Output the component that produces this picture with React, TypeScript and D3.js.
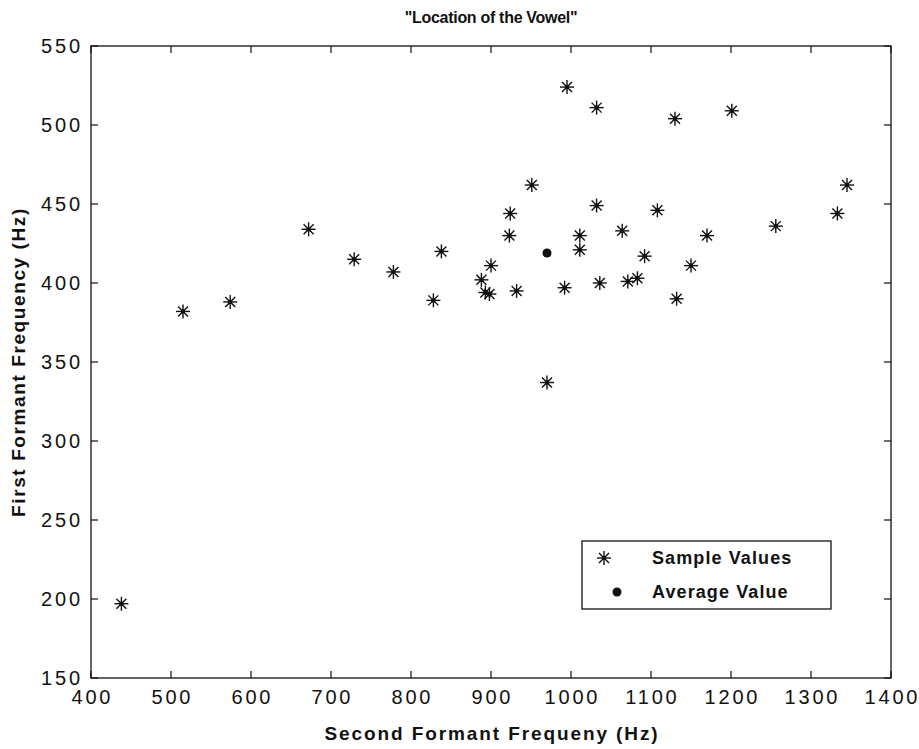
import React, {useEffect, useRef} from 'react'
import * as d3 from 'd3'

// second formant (x) / first formant (y), Hz
const f2Values = [438, 515, 574, 672, 729, 778, 828, 838, 888, 893, 898, 900, 923, 924, 932, 951, 970, 992, 995, 1011, 1011, 1032, 1032, 1036, 1064, 1071, 1083, 1092, 1108, 1130, 1132, 1150, 1170, 1201, 1256, 1333, 1345];
const f1Values = [197, 382, 388, 434, 415, 407, 389, 420, 402, 394, 393, 411, 430, 444, 395, 462, 337, 397, 524, 430, 421, 511, 449, 400, 433, 401, 403, 417, 446, 504, 390, 411, 430, 509, 436, 444, 462];

const averageF2 = [970];
const averageF1 = [419];

const xTicks = [400, 500, 600, 700, 800, 900, 1000, 1100, 1200, 1300, 1400];
const yTicks = [150, 200, 250, 300, 350, 400, 450, 500, 550];

const legendLabels = ['Sample Values', 'Average Value'];

const W = 919, H = 749;
const margin = {top: 46, right: 28, bottom: 71, left: 91};
const font = '"Liberation Sans", Arial, Helvetica, sans-serif';

const App = () => {
  const ref = useRef<SVGSVGElement>(null);

  useEffect(() => {
    const width = W - margin.left - margin.right;
    const height = H - margin.top - margin.bottom;

    const xScale = d3.scaleLinear().domain([400, 1400]).range([0, width]);
    const yScale = d3.scaleLinear().domain([150, 550]).range([height, 0]);

    const svg = d3.select(ref.current);
    const g = svg.append('g')
      .attr('transform', 'translate(' + margin.left + ',' + margin.top + ')');

    // box
    g.append('rect')
      .attr('width', width).attr('height', height)
      .attr('fill', 'none').attr('stroke', '#111').attr('stroke-width', 1.3);

    const tl = 7;
    // ticks on all four sides, pointing inward
    g.append('g').selectAll('line.xb').data(xTicks).enter().append('line')
      .attr('x1', d => xScale(d)).attr('x2', d => xScale(d))
      .attr('y1', height).attr('y2', height - tl)
      .attr('stroke', '#111').attr('stroke-width', 1.2);
    g.append('g').selectAll('line.xt').data(xTicks).enter().append('line')
      .attr('x1', d => xScale(d)).attr('x2', d => xScale(d))
      .attr('y1', 0).attr('y2', tl)
      .attr('stroke', '#111').attr('stroke-width', 1.2);
    g.append('g').selectAll('line.yl').data(yTicks).enter().append('line')
      .attr('x1', 0).attr('x2', tl)
      .attr('y1', d => yScale(d)).attr('y2', d => yScale(d))
      .attr('stroke', '#111').attr('stroke-width', 1.2);
    g.append('g').selectAll('line.yr').data(yTicks).enter().append('line')
      .attr('x1', width).attr('x2', width - tl)
      .attr('y1', d => yScale(d)).attr('y2', d => yScale(d))
      .attr('stroke', '#111').attr('stroke-width', 1.2);

    // tick labels (wide, like the original)
    const ls = 2.8;
    g.append('g').selectAll('text').data(xTicks).enter().append('text')
      .attr('x', d => xScale(d) + ls / 2).attr('y', height + 26)
      .attr('text-anchor', 'middle')
      .attr('font-family', font).attr('font-size', 20)
      .attr('letter-spacing', ls)
      .attr('fill', '#111')
      .text(d => d);
    g.append('g').selectAll('text').data(yTicks).enter().append('text')
      .attr('x', -11 + ls).attr('y', d => yScale(d) + 7)
      .attr('text-anchor', 'end')
      .attr('font-family', font).attr('font-size', 20)
      .attr('letter-spacing', ls)
      .attr('fill', '#111')
      .text(d => d);

    // titles
    svg.append('text')
      .attr('x', margin.left + width / 2).attr('y', 23)
      .attr('text-anchor', 'middle')
      .attr('font-family', font).attr('font-size', 16).attr('font-weight', 'bold')
      .attr('letter-spacing', -0.3)
      .attr('fill', '#111')
      .text('"Location of the Vowel"');
    svg.append('text')
      .attr('x', margin.left + width / 2 + 1).attr('y', 740)
      .attr('text-anchor', 'middle')
      .attr('font-family', font).attr('font-size', 19).attr('font-weight', 'bold')
      .attr('letter-spacing', 1.9)
      .attr('fill', '#111')
      .text('Second Formant Frequeny (Hz)');
    svg.append('text')
      .attr('transform', 'translate(25,' + (margin.top + height / 2) + ') rotate(-90)')
      .attr('text-anchor', 'middle')
      .attr('font-family', font).attr('font-size', 19).attr('font-weight', 'bold')
      .attr('letter-spacing', 1.6)
      .attr('fill', '#111')
      .text('First Formant Frequency (Hz)');

    const star = (sel, cx, cy) => {
      const a = 7, b = 5;
      const p = sel.append('g').attr('transform', 'translate(' + cx + ',' + cy + ')')
        .attr('stroke', '#111').attr('stroke-width', 1.4);
      p.append('line').attr('x1', -a).attr('x2', a).attr('y1', 0).attr('y2', 0);
      p.append('line').attr('x1', 0).attr('x2', 0).attr('y1', -a).attr('y2', a);
      p.append('line').attr('x1', -b).attr('x2', b).attr('y1', -b).attr('y2', b);
      p.append('line').attr('x1', -b).attr('x2', b).attr('y1', b).attr('y2', -b);
      p.append('rect').attr('x', -2).attr('y', -2).attr('width', 4).attr('height', 4)
        .attr('fill', '#111').attr('stroke', 'none');
    };

    const pts = g.append('g');
    f2Values.forEach((v, i) => star(pts, xScale(v), yScale(f1Values[i])));

    g.append('g').selectAll('circle').data(averageF2).enter().append('circle')
      .attr('cx', d => xScale(d)).attr('cy', (d, i) => yScale(averageF1[i]))
      .attr('r', 4.5).attr('fill', '#111');

    // legend
    const lg = svg.append('g').attr('transform', 'translate(582,541)');
    lg.append('rect').attr('width', 249).attr('height', 68)
      .attr('fill', '#fff').attr('stroke', '#111').attr('stroke-width', 1.3);
    star(lg, 22, 17);
    lg.append('circle').attr('cx', 35).attr('cy', 51).attr('r', 4.5).attr('fill', '#111');
    lg.selectAll('text').data(legendLabels).enter().append('text')
      .attr('x', 70).attr('y', (d, i) => 23 + i * 34)
      .attr('font-family', font).attr('font-size', 18).attr('font-weight', 'bold')
      .attr('letter-spacing', 1.1)
      .attr('fill', '#111')
      .text(d => d);

    return () => { svg.selectAll('*').remove() };
  }, []);

  return (
    <svg ref={ref} width={W} height={H}
      style={{position: 'absolute', left: 0, top: 0, background: '#fff'}}>
    </svg>
  )
};

export default App
